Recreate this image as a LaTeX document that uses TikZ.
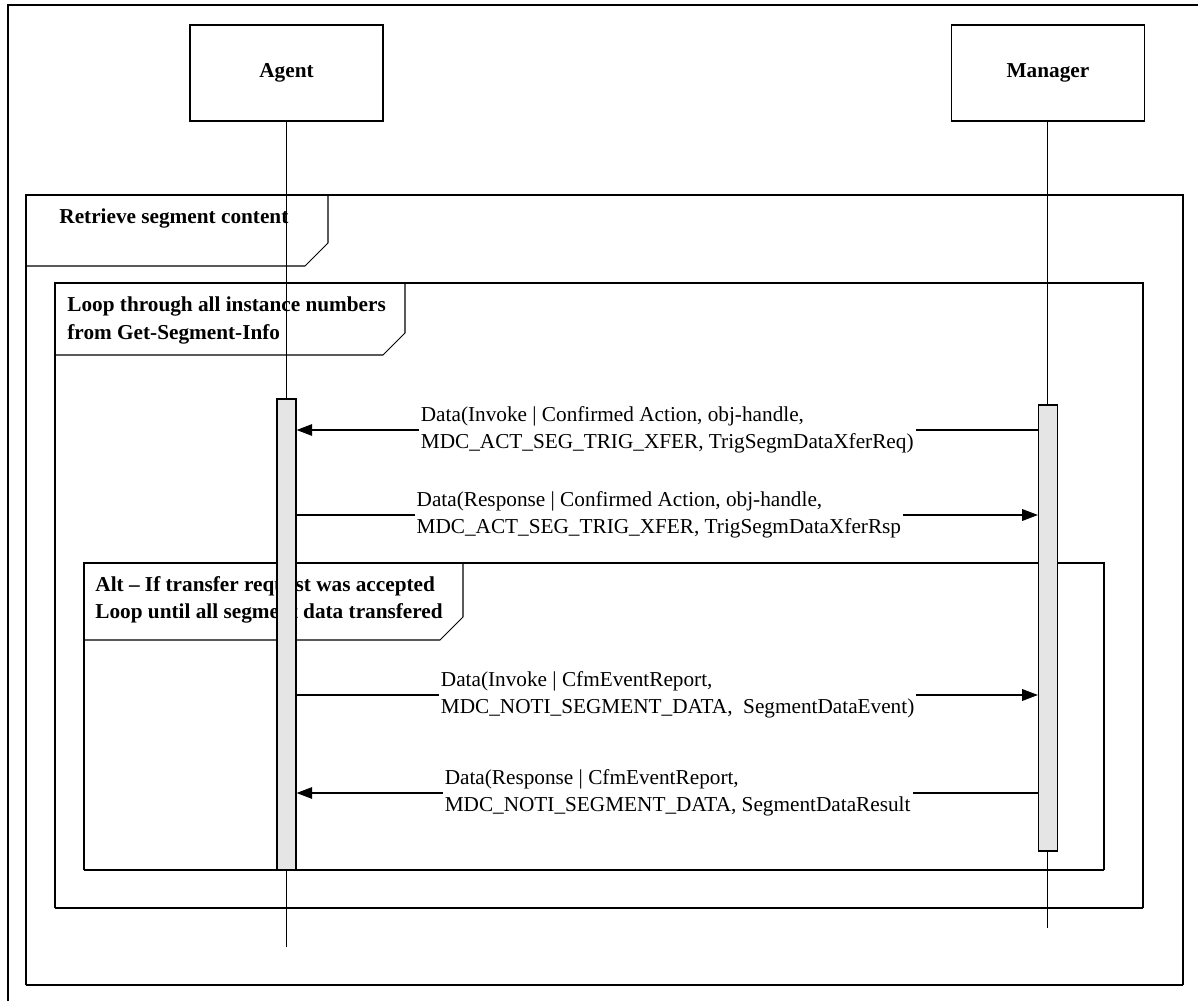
\documentclass[tikz,border=0pt]{standalone}
\usepackage{fontspec}
\setmainfont{Liberation Serif}
\usepackage{tikz}
\usetikzlibrary{calc}
\usetikzlibrary{positioning}
\usetikzlibrary{arrows.meta}

\begin{document}
\begin{tikzpicture}[x=0.48pt,y=-0.48pt,font=\fontsize{10.2}{13}\selectfont]
		\tikzstyle{actor} = [draw, line width=0.7pt, minimum width=92.6pt, minimum height=46pt, font=\fontsize{10.2}{13}\selectfont\bfseries]
		\tikzstyle{instance} = [draw, line width=0.5pt]
		\tikzstyle{activation} = [draw, fill=black!10, line width=0.6pt, minimum width=9.1pt, inner sep=0pt]
		\tikzstyle{message} = [draw, line width=0.5pt, -{Triangle[length=7.5pt,width=5.6pt]}]
		\tikzstyle{msgtext} = [fill=white, align=left, inner sep=1pt]
		\tikzstyle{frame} = [draw, line width=0.5pt]
		\tikzstyle{framebase} = [draw, line width=1.1pt]
		\tikzstyle{tag} = [font=\fontsize{10.2}{13}\selectfont\bfseries, align=left, anchor=west, inner sep=0pt]

		\useasboundingbox (0,0) rectangle (1198,1001);
		\clip (0,0) rectangle (1198,1001);

		% outer border
		\draw[line width=1pt] (8,5) rectangle (1230,1030);

		% combined fragments
		\draw[frame] (26,985) -- (26,195) -- (1183,195) -- (1183,985);
		\draw[framebase] (26,985) -- (1183,985);
		\draw[frame] (26,266) -- (305,266) -- (328,243) -- (328,195);
		\node[tag] (RetrieveTag) at (59,218) {Retrieve segment content};

		\draw[frame] (55,908) -- (55,283) -- (1143,283) -- (1143,908);
		\draw[framebase] (55,908) -- (1143,908);
		\draw[frame] (55,355) -- (383,355) -- (405,333) -- (405,283);
		\node[tag] (LoopTag) at (67,320.5) {Loop through all instance numbers\\from Get-Segment-Info};

		\draw[frame] (84,870) -- (84,563) -- (1104,563) -- (1104,870);
		\draw[framebase] (84,870) -- (1104,870);
		\draw[frame] (84,640) -- (440,640) -- (463,617) -- (463,563);
		\node[tag] (AltTag) at (95,599.5) {Alt \textendash{} If transfer request was accepted\\Loop until all segment data transfered};

		% lifelines
		\node[actor, fill=white] (Agent) at (286.5,73) {Agent};
		\node[actor, fill=white, right=272.2pt of Agent] (Manager) {Manager};

		\coordinate (AgentEnd) at ($(Agent)+(0,874)$);
		\coordinate (ManagerEnd) at ($(Manager)+(0,855)$);
		\draw[instance] (Agent) -- (AgentEnd);
		\draw[instance] (Manager) -- (ManagerEnd);

		\node[activation, minimum height=226.1pt] (AgentBar) at ($(Agent)+(0,561.5)$) {};
		\node[activation, minimum height=214.1pt] (ManagerBar) at ($(Manager)+(0,555)$) {};

		% messages
		\coordinate (TrigReq) at ($(Agent)+(0,357)$);
		\coordinate (TrigRsp) at ($(Agent)+(0,442)$);
		\coordinate (SegEvent) at ($(Agent)+(0,622)$);
		\coordinate (SegResult) at ($(Agent)+(0,720)$);

		\draw[message] (ManagerBar.west |- TrigReq) -- (AgentBar.east |- TrigReq) node[midway, msgtext] {Data(Invoke | Confirmed Action, obj-handle,\\MDC\_ACT\_SEG\_TRIG\_XFER, TrigSegmDataXferReq)};
		\draw[message] (AgentBar.east |- TrigRsp) -- (ManagerBar.west |- TrigRsp) node[midway, msgtext, xshift=-4pt] {Data(Response | Confirmed Action, obj-handle,\\MDC\_ACT\_SEG\_TRIG\_XFER, TrigSegmDataXferRsp};
		\draw[message] (AgentBar.east |- SegEvent) -- (ManagerBar.west |- SegEvent) node[midway, msgtext, xshift=5pt] {Data(Invoke | CfmEventReport,\\MDC\_NOTI\_SEGMENT\_DATA,\ \ SegmentDataEvent)};
		\draw[message] (ManagerBar.west |- SegResult) -- (AgentBar.east |- SegResult) node[midway, msgtext, xshift=5pt] {Data(Response | CfmEventReport,\\MDC\_NOTI\_SEGMENT\_DATA, SegmentDataResult};

	\end{tikzpicture}
\end{document}
